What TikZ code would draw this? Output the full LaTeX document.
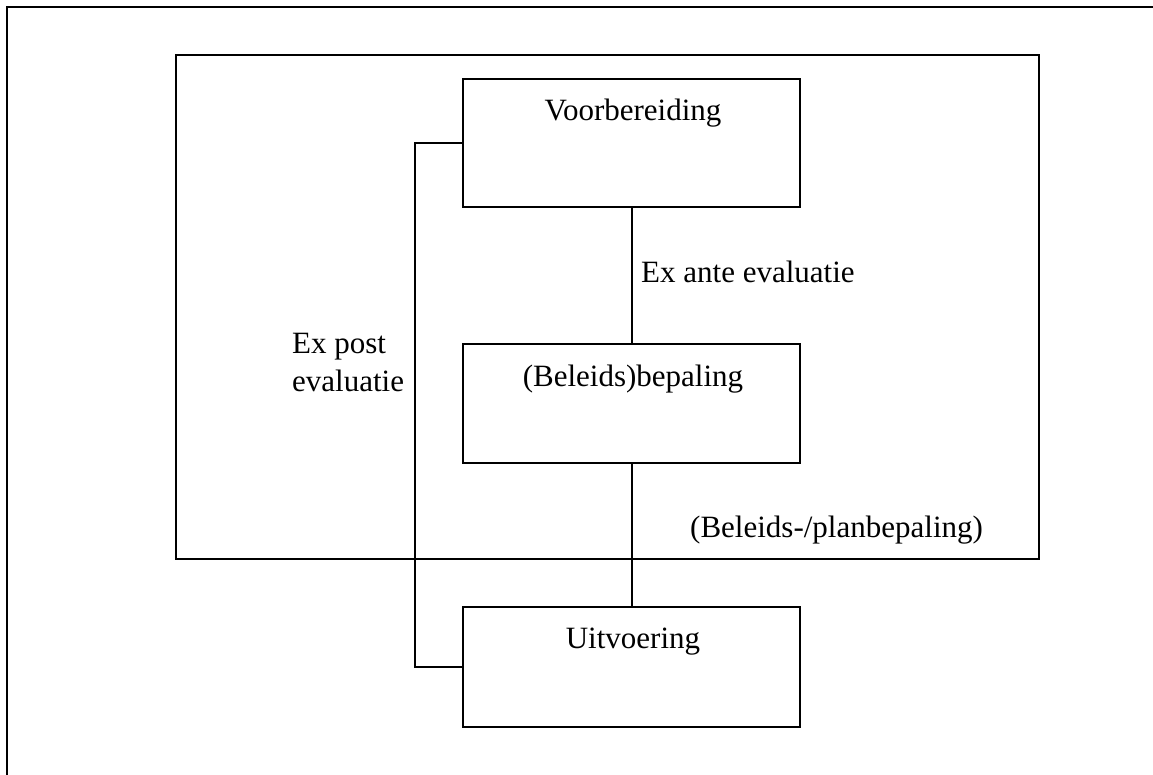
\documentclass[tikz,border=0pt]{standalone}
\usepackage{fontspec}
\setmainfont{Liberation Serif}
\usetikzlibrary{calc}
\begin{document}
\begin{tikzpicture}[x=1pt,y=-1pt,
  frame/.style={draw=black,line width=2pt},
  stage/.style={draw=black,line width=2pt,minimum width=337pt,minimum height=128pt,inner sep=0pt},
  lbl/.style={font=\fontsize{31}{39}\selectfont,inner sep=0pt,anchor=base west},
  ttl/.style={font=\fontsize{31}{39}\selectfont,inner sep=0pt,anchor=base},
  conn/.style={draw=black,line width=2pt}]
\useasboundingbox (0,0) rectangle (1153,774);
% outer frame (extends beyond the page)
\draw[frame] (1200,7) -- (7,7) -- (7,800);
% inner frame
\node[frame,minimum width=863pt,minimum height=504pt,inner sep=0pt] (plan) at (607.5,307) {};
% stages
\node[stage] (voor) at (631.5,143) {};
\node[stage,minimum height=119pt] (bep) at (631.5,403.5) {};
\node[stage,minimum height=120pt] (uit) at (631.5,667) {};
\node[ttl] (tvoor) at (633,120) {Voorbereiding};
\node[ttl] (tbep) at (633,386) {(Beleids)bepaling};
\node[ttl] (tuit) at (633,648) {Uitvoering};
% connectors
\draw[conn] (voor.south) -- (bep.north);
\draw[conn] (bep.south) -- (uit.north);
\coordinate (fb1) at (415,143);
\coordinate (fb2) at (415,667);
\draw[conn] (voor.west) -- (fb1) -- (fb2) -- (uit.west);
% labels
\node[lbl] (exante) at (641,282) {Ex ante evaluatie};
\node[lbl] (expost1) at (292,353) {Ex post};
\node[lbl] (expost2) at (292,391) {evaluatie};
\node[lbl] (planlbl) at (690,537) {(Beleids-/planbepaling)};
\end{tikzpicture}
\end{document}
